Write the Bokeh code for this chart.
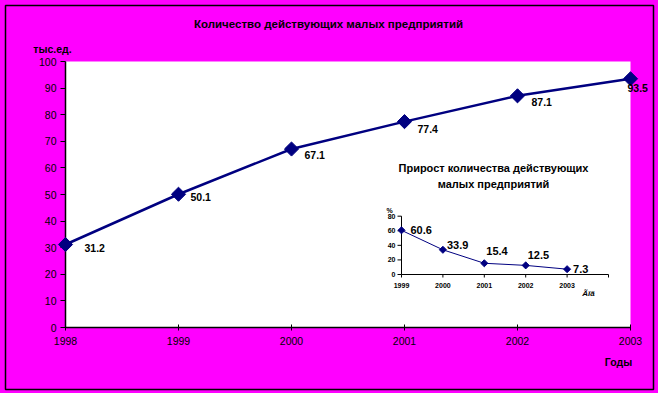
import math
from bokeh.plotting import figure
from bokeh.models import ColumnDataSource, Range1d, FixedTicker, GlobalInlineStyleSheet
from bokeh.core.properties import value
from bokeh.embed import file_html
from bokeh.resources import INLINE

# ---------------- data ----------------
years = [1998, 1999, 2000, 2001, 2002, 2003]
counts = [31.2, 50.1, 67.1, 77.4, 87.1, 93.5]
y_ticks = list(range(0, 101, 10))

growth_years = [1999, 2000, 2001, 2002, 2003]
growth = [60.6, 33.9, 15.4, 12.5, 7.3]
inset_y_ticks = [0, 20, 40, 60, 80]

title_main = "Количество действующих малых предприятий"
y_unit = "тыс.ед."
x_title = "Годы"
inset_title = ["Прирост количества действующих", "малых предприятий"]
inset_y_unit = "%"
inset_x_title = "Ãîä"

# ---------------- styles / layout ----------------
MAGENTA = "#FF00FF"
NAVY = "#000080"
FONT = "Liberation Sans"
W, H = 658, 393
L, R, T, B = 65, 28, 61, 66
FW, FH = W - L - R, H - T - B

# label offsets (screen px: right, down)
main_dx = [19, 12, 13, 13, 14, -3]
main_dy = [3, 3, 6, 7, 6, 9]
inset_dx = [9, 4, 2, 2, 6]
inset_dy = [0, -5, -12, -10, 0]

# inset placement in pixels
I_X0, I_STEP = 401, 41.4      # pixel of first inset year, px per year
I_Y0, I_SCALE = 274, 0.729    # pixel of inset 0, px per unit

x0, x1 = years[0], years[-1]
p = figure(width=W, height=H, x_range=Range1d(x0, x1), y_range=Range1d(0, 100),
           output_backend="svg", toolbar_location=None,
           min_border_left=L, min_border_right=R, min_border_top=T, min_border_bottom=B)
p.stylesheets = [GlobalInlineStyleSheet(css="html,body{margin:0;padding:0;background:#FF00FF;}")]
p.border_fill_color = MAGENTA
p.background_fill_color = "white"
p.outline_line_color = None
p.grid.visible = False


def mx(px):
    return x0 + (px - L) / FW * (x1 - x0)


def my(py):
    return (T + FH - py) / FH * 100


# outer black frame of the whole chart area
p.quad(left=[mx(5)], right=[mx(653)], top=[my(5)], bottom=[my(389)],
       fill_color=None, line_color="black", line_width=1.5, level="overlay")

# axes
for ax in (p.xaxis[0], p.yaxis[0]):
    ax.axis_line_color = "black"
    ax.axis_line_width = 1.5
    ax.major_tick_line_color = "black"
    ax.major_tick_line_width = 1
    ax.minor_tick_line_color = None
    ax.major_label_text_font = FONT
    ax.major_label_text_font_size = "10.5px"
    ax.major_label_text_color = "black"
p.xaxis.ticker = FixedTicker(ticks=years)
p.xaxis.major_tick_in = 3
p.xaxis.major_tick_out = 3
p.xaxis.major_label_standoff = 6
p.yaxis.ticker = FixedTicker(ticks=y_ticks)
p.yaxis.major_tick_in = 0
p.yaxis.major_tick_out = 5
p.yaxis.major_label_standoff = 4

# main series
src = ColumnDataSource(dict(x=years, y=counts, t=[f"{v:.1f}" for v in counts],
                            dx=main_dx, dy=main_dy))
p.line("x", "y", source=src, line_color=NAVY, line_width=2.5, level="overlay")
p.scatter("x", "y", source=src, marker="square", size=10, angle=math.pi / 4,
          fill_color=NAVY, line_color=NAVY, level="overlay")
p.text("x", "y", text="t", source=src, x_offset="dx", y_offset="dy",
       text_font=value(FONT), text_font_size="10.5px", text_font_style="bold",
       text_align="left", text_baseline="middle", text_color="black", level="overlay")

# fixed texts
def lab(txt, px, py, size, style="bold"):
    p.text(x=[mx(px)], y=[my(py)], text=[txt], text_font=value(FONT), text_font_size=size,
           text_font_style=style, text_align="center", text_baseline="middle",
           text_color="black", level="overlay")

lab(title_main, 328, 23, "11.5px")
lab(y_unit, 52, 48, "10.5px")
lab(x_title, 618, 361, "10.5px")
lab(inset_title[0], 493, 167, "11px")
lab(inset_title[1], 493, 183, "11px")
lab(inset_y_unit, 389, 210, "7px")
lab(inset_x_title, 588, 293, "8px", style="bold italic")

# ---------------- inset (own scales) ----------------
ixs = growth_years[0] - (I_X0 - L) / I_STEP
ixe = ixs + FW / I_STEP
iys = -(T + FH - I_Y0) / I_SCALE
iye = iys + FH / I_SCALE
p.extra_x_ranges = {"ix": Range1d(ixs, ixe)}
p.extra_y_ranges = {"iy": Range1d(iys, iye)}
kw = dict(x_range_name="ix", y_range_name="iy")

gx0 = growth_years[0]
gx_end = growth_years[-1] + 1
p.segment(x0=[gx0, gx0], y0=[0, 0], x1=[gx0, gx_end], y1=[inset_y_ticks[-1], 0],
          line_color="black", line_width=1, **kw)
p.ray(x=[gx0] * len(inset_y_ticks), y=inset_y_ticks, length=4, length_units="screen",
      angle=math.pi, line_color="black", line_width=1, **kw)
p.ray(x=growth_years + [gx_end], y=[0] * (len(growth_years) + 1), length=3,
      length_units="screen", angle=-math.pi / 2, line_color="black", line_width=1, **kw)
p.text(x=[gx0] * len(inset_y_ticks), y=inset_y_ticks, text=[str(v) for v in inset_y_ticks],
       x_offset=-6, text_align="right", text_baseline="middle", text_font=value(FONT),
       text_font_size="7px", text_font_style="bold", text_color="black", **kw)
p.text(x=growth_years, y=[0] * len(growth_years), text=[str(v) for v in growth_years],
       y_offset=11, text_align="center", text_baseline="middle", text_font=value(FONT),
       text_font_size="7px", text_font_style="bold", text_color="black", **kw)

isrc = ColumnDataSource(dict(x=growth_years, y=growth, t=[f"{v:.1f}" for v in growth],
                             dx=inset_dx, dy=inset_dy))
p.line("x", "y", source=isrc, line_color=NAVY, line_width=1, **kw)
p.scatter("x", "y", source=isrc, marker="square", size=5, angle=math.pi / 4,
          fill_color=NAVY, line_color=NAVY, **kw)
p.text("x", "y", text="t", source=isrc, x_offset="dx", y_offset="dy", text_align="left",
       text_baseline="middle", text_font=value(FONT), text_font_size="11px",
       text_font_style="bold", text_color="black", **kw)

open("out.html", "w").write(file_html(p, INLINE))
